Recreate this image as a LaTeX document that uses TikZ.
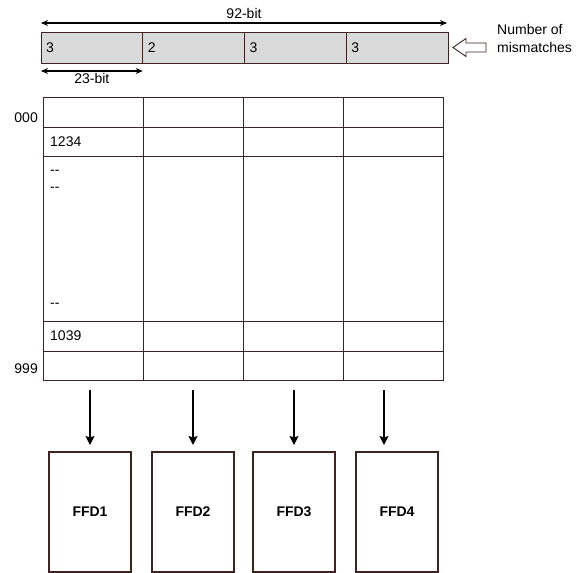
\documentclass[tikz,border=0pt]{standalone}
\usepackage{fontspec}
\setmainfont{Liberation Sans}
\usetikzlibrary{arrows.meta,positioning,calc}

\definecolor{edgebrown}{RGB}{62,36,32}
\definecolor{barfill}{RGB}{218,218,218}

\begin{document}
\begin{tikzpicture}[
    x=1pt, y=-1pt,
    font=\fontsize{14}{18}\selectfont,
    node distance=20pt,
    field/.style={rectangle, draw=edgebrown, fill=barfill, line width=1pt,
                  minimum width=101.75pt, minimum height=31pt,
                  inner sep=0pt, outer sep=0pt},
    cell/.style={rectangle, draw=edgebrown, line width=1pt,
                 minimum width=100pt, inner sep=0pt, outer sep=0pt},
    ffd/.style={rectangle, draw=edgebrown, line width=1.1pt, outer sep=0pt,
                minimum width=82pt, minimum height=120pt,
                font=\fontsize{14}{18}\selectfont\bfseries},
    arrow/.style={-{Stealth[length=9pt, width=9pt, inset=1.5pt]}, line width=1.6pt},
    span/.style={{Stealth[length=7pt, width=6pt]}-{Stealth[length=7pt, width=6pt]},
                 line width=1.1pt},
    lbl/.style={inner sep=0pt}
]
\useasboundingbox (0,0) rectangle (587,573);

%% ── Mismatch word (4 fields) ─────────────────────────────────────
\node[field] (bar1) at (91.875,47.5) {};
\node[field, right=0pt of bar1] (bar2) {};
\node[field, right=0pt of bar2] (bar3) {};
\node[field, right=0pt of bar3] (bar4) {};

\foreach \i/\v in {1/3, 2/2, 3/3, 4/3}
    \node[lbl, anchor=west] (val\i) at ([xshift=5pt]bar\i.west) {\v};

%% widths
\coordinate (w92a) at ([yshift=9pt]bar1.north west);
\coordinate (w92b) at ([yshift=9pt, xshift=-1pt]bar4.north east);
\draw[span] (w92a) -- node[lbl, above=4pt] (bits92) {92-bit} (w92b);

\coordinate (w23a) at ([yshift=-8pt]bar1.south west);
\coordinate (w23b) at ([yshift=-8pt]bar1.south east);
\draw[span] (w23a) -- node[lbl, below=2pt] (bits23) {23-bit} (w23b);

%% hollow pointer + its label
\draw[edgebrown, line width=0.9pt]
    ([xshift=5pt]bar4.east) -- ++(13,-9) -- ++(0,4.5) -- ++(20,0)
    -- ++(0,9) -- ++(-20,0) -- ++(0,4.5) -- cycle;
\node[lbl, anchor=west, align=left] (mism) at (497,38) {Number of\\mismatches};

%% ── Table ────────────────────────────────────────────────────────
\foreach \r/\top/\h in {1/97/30, 2/127/29, 3/156/165, 4/321/30, 5/351/29}
    \foreach \c in {1,...,4}
        \node[cell, minimum height=\h pt, anchor=north west]
            (c\r\c) at (100*\c-57, \top) {};

\node[lbl, anchor=base east] (idx000) at ([xshift=-5pt, yshift=5pt]c11.south west) {000};
\node[lbl, anchor=base east] (idx999) at ([xshift=-5pt, yshift=7pt]c51.south west) {999};

\node[lbl, anchor=west] (e1234) at ([xshift=7pt]c21.west) {1234};
\node[lbl, anchor=west] (e1039) at ([xshift=7pt]c41.west) {1039};
\node[lbl, anchor=west] (dots1) at ([xshift=7pt, yshift=-16pt]c31.north west) {-{}-};
\node[lbl, anchor=west] (dots2) at ([xshift=7pt, yshift=-33pt]c31.north west) {-{}-};
\node[lbl, anchor=west] (dots3) at ([xshift=7pt, yshift=16pt]c31.south west) {-{}-};

%% ── FFD units ────────────────────────────────────────────────────
\node[ffd] (ffd1) at (90,512) {FFD1};
\node[ffd, right=21pt of ffd1] (ffd2) {FFD2};
\node[ffd, right=19pt of ffd2] (ffd3) {FFD3};
\node[ffd, right=21pt of ffd3] (ffd4) {FFD4};

\coordinate (out1) at (90,390);
\coordinate (out2) at (193,390);
\coordinate (out3) at (294,390);
\coordinate (out4) at (384,390);

\foreach \i in {1,...,4}
    \draw[arrow, shorten >=7pt] (out\i) -- (out\i |- ffd\i.north);

\end{tikzpicture}
\end{document}
